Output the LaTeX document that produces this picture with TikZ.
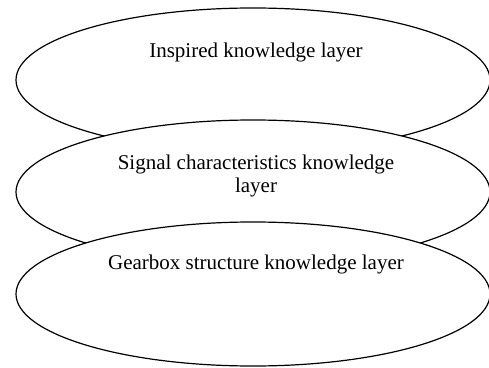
\documentclass[tikz,border=0pt]{standalone}
\usepackage{fontspec}
\setmainfont{Liberation Serif}
\usetikzlibrary{shapes.geometric, positioning}
\tikzstyle{layer} = [ellipse, draw=black, fill=white, line width=1.2pt, minimum width=474pt, minimum height=144pt, inner sep=0pt]
\tikzstyle{layertext} = [anchor=base, align=center, inner sep=0pt, font=\fontsize{21}{23.5}\selectfont]

\begin{document}
\begin{tikzpicture}[node distance=112pt]
\useasboundingbox (0,0) rectangle (489pt,367pt);
\node (inspired) [layer] at (253pt,287pt) {};
\node (inspiredtext) [layertext] at ([xshift=3pt,yshift=-50pt]inspired.north) {Inspired knowledge layer};
\node (signal) [layer, below of=inspired] {};
% base anchor sits on the last line here
\node (signaltext) [layertext] at ([xshift=3pt,yshift=-73.5pt]signal.north) {Signal characteristics knowledge\\layer};
\node (gearbox) [layer, below of=signal, yshift=10pt] {};
\node (gearboxtext) [layertext] at ([xshift=3pt,yshift=-48pt]gearbox.north) {Gearbox structure knowledge layer};
\end{tikzpicture}
\end{document}
